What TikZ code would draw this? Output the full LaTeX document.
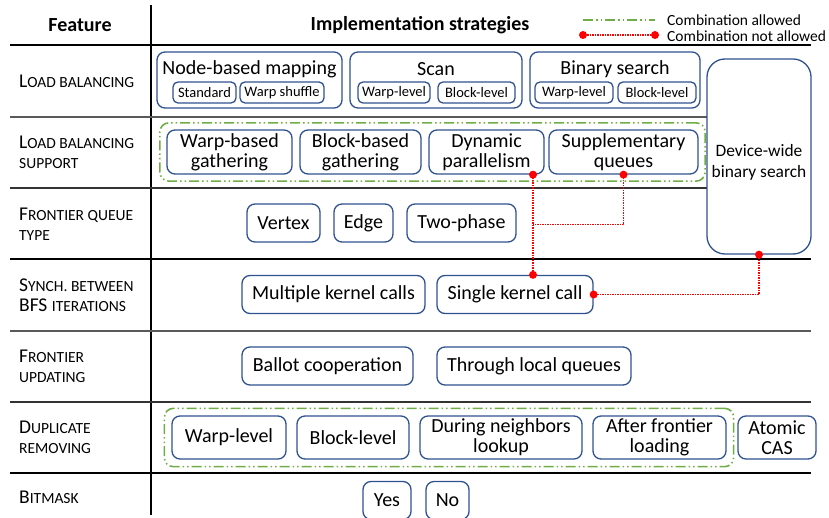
\documentclass[tikz,border=0pt]{standalone}
\usepackage{fontspec}
\setmainfont{Carlito}
\usetikzlibrary{fit,calc}

\definecolor{boxblue}{RGB}{47,82,143}
\definecolor{okgreen}{RGB}{112,173,71}

% small capitals for the feature names
\newcommand\caps[1]{{\fontsize{15.5}{15.5}\selectfont\MakeUppercase{#1}}}

\tikzset{
  box/.style={draw=boxblue, line width=1.3pt, rounded corners=8pt, inner sep=0pt,
    align=center, font=\fontsize{20}{20}\selectfont},
  subbox/.style={box, rounded corners=5pt, font=\fontsize{14.5}{15}\selectfont},
  dims/.style 2 args={minimum width=#1pt, minimum height=#2pt},
  title/.style={inner sep=0pt, font=\fontsize{20}{20}\selectfont},
  head/.style={inner sep=0pt, font=\fontsize{20}{20}\selectfont\bfseries},
  feature/.style={anchor=west, align=left, inner sep=0pt, font=\fontsize{19.5}{20}\selectfont},
  legend/.style={anchor=west, inner sep=0pt, font=\fontsize{15.5}{16}\selectfont},
  allowed/.style={draw=okgreen, line width=1.6pt, rounded corners=9pt,
    dash pattern=on 10pt off 3pt on 1.5pt off 3pt on 1.5pt off 3pt},
  notallowed/.style={draw=red, line width=1.3pt, dash pattern=on 1.5pt off 1pt},
  reddot/.style={circle, fill=red, inner sep=0pt, minimum size=8pt},
}

\begin{document}
\begin{tikzpicture}[x=1pt, y=-1pt]
  \clip (0,0) rectangle (829,518);

  % table rules
  \draw[line width=2pt] (151,5) -- (151,515);
  \draw[line width=1.8pt] (10,45) -- (811,45);
  \foreach \y/\x/\c in {117/707/black!65, 188/707/black!80, 259/811/black,
                        331/811/black!65, 402/811/black!80, 473/811/black}
    \draw[line width=1.3pt, \c] (10,\y) -- (\x,\y);

  % header
  \node[head] (feat) at (80,25) {Feature};
  \node[head] (impl) at (420,25) {Implementation strategies};

  % legend
  \coordinate (ga) at (583,20);
  \coordinate (gb) at (655,20);
  \draw[allowed] (ga) -- (gb);
  \node[legend] (gtxt) at (667,20) {Combination allowed};
  \node[reddot] (ra) at (583,35) {};
  \node[reddot] (rb) at (655,35) {};
  \draw[notallowed] (ra) -- (rb);
  \node[legend] (rtxt) at (667,36) {Combination not allowed};

  % feature names
  \node[feature] (f1) at (19,81)  {L\caps{oad balancing}};
  \node[feature] (f2) at (19,152) {L\caps{oad balancing}\\\caps{support}};
  \node[feature] (f3) at (19,224) {F\caps{rontier queue}\\\caps{type}};
  \node[feature] (f4) at (19,295) {S\caps{ynch. between}\\BFS \caps{iterations}};
  \node[feature] (f5) at (19,366) {F\caps{rontier}\\\caps{updating}};
  \node[feature] (f6) at (19,437) {D\caps{uplicate}\\\caps{removing}};
  \node[feature] (f7) at (19,497) {B\caps{itmask}};

  % load balancing
  \node[box, dims={185}{56}] (nbm) at (249.5,80) {};
  \node[title] (nbmt) at (249.5,69) {Node-based mapping};
  \node[subbox, dims={63}{21}] (std) at (204.5,92.5) {Standard};
  \node[subbox, dims={84}{21}] (wsh) at (282,92.5) {Warp shuffle};

  \node[box, dims={172}{56}] (scan) at (436,80) {};
  \node[title] (scant) at (436,69) {Scan};
  \node[subbox, dims={72}{21}] (scw) at (394,92.5) {Warp-level};
  \node[subbox, dims={77}{21}] (scb) at (476.5,92.5) {Block-level};

  \node[box, dims={170}{56}] (bs) at (615,80) {};
  \node[title] (bst) at (615,69) {Binary search};
  \node[subbox, dims={78}{21}] (bsw) at (574,92.5) {Warp-level};
  \node[subbox, dims={78}{21}] (bsb) at (657,92.5) {Block-level};

  \node[box, dims={104}{195}, rounded corners=18pt] (dev) at (759,156.5) {};
  \node[title, align=center, font=\fontsize{17.4}{21}\selectfont]
    (devt) at (759,162) {Device-wide\\binary search};

  % load balancing support
  \node[box, dims={125}{44}] (wbg)  at (229.5,152) {Warp-based\\gathering};
  \node[box, dims={121}{44}] (bbg)  at (360.5,152) {Block-based\\gathering};
  \node[box, dims={115}{44}] (dyn)  at (486.5,152) {Dynamic\\parallelism};
  \node[box, dims={149}{44}] (supp) at (623.5,152) {Supplementary\\queues};
  \node[allowed, fit=(wbg)(supp), inner sep=6.5pt] (lbs) {};

  % frontier queue type
  \node[box, dims={73}{38}]  (vert) at (283.5,223) {Vertex};
  \node[box, dims={59}{38}]  (edge) at (363.5,223) {Edge};
  \node[box, dims={109}{38}] (twop) at (461.5,223) {Two-phase};

  % synchronisation
  \node[box, dims={183}{38}] (mkc)    at (333.5,294.5) {Multiple kernel calls};
  \node[box, dims={156}{38}] (single) at (515,294.5) {Single kernel call};

  % frontier updating
  \node[box, dims={171}{38}] (ballot) at (327.5,366) {Ballot cooperation};
  \node[box, dims={194}{38}] (tlq)    at (534,366) {Through local queues};

  % duplicate removing
  \node[box, dims={114}{43}] (wl)  at (229,437.5) {Warp-level};
  \node[box, dims={112}{43}] (bl)  at (353,437.5) {Block-level};
  \node[box, dims={162}{43}] (dnl) at (501,437.5) {During neighbors\\lookup};
  \node[box, dims={133}{43}] (afl) at (659.5,437.5) {After frontier\\loading};
  \node[box, dims={78}{43}]  (cas) at (777,437.5) {Atomic\\CAS};
  \node[allowed, fit=(wl)(afl), inner sep=7pt] (dup) {};

  % bitmask
  \node[box, dims={48}{38}] (yes) at (387,500.5) {Yes};
  \node[box, dims={43}{38}] (no)  at (447.5,500.5) {No};

  % combinations that are not allowed
  \coordinate (dp) at ([xshift=46.5pt]dyn.south);
  \coordinate (sk) at (dp |- single.north);
  \draw[notallowed] (dp) -- (sk);
  \draw[notallowed] (supp.south) |- ($(dp)!0.5!(sk)$);
  \draw[notallowed] (dev.south) |- (single.east);
  \foreach \p in {dp, sk, supp.south, dev.south, single.east}
    \node[reddot] at (\p) {};
\end{tikzpicture}
\end{document}
